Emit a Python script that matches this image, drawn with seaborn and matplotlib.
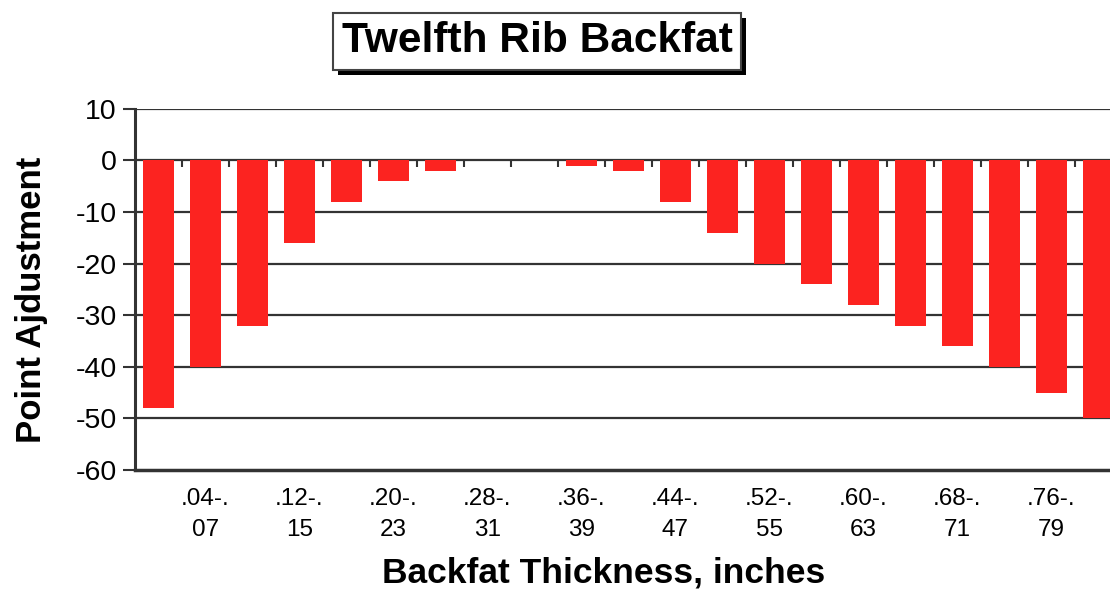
import numpy as np
import matplotlib
matplotlib.use("Agg")
import matplotlib.pyplot as plt
from matplotlib.patches import Rectangle
import seaborn as sns

# Backfat ranges (inches) and the point adjustment for each one
ranges = [".00-.03", ".04-.07", ".08-.11", ".12-.15", ".16-.19", ".20-.23", ".24-.27",
          ".28-.31", ".32-.35", ".36-.39", ".40-.43", ".44-.47", ".48-.51", ".52-.55",
          ".56-.59", ".60-.63", ".64-.67", ".68-.71", ".72-.75", ".76-.79", ".80-.83"]
points = [-48, -40, -32, -16, -8, -4, -2, 0, 0, -1, -2, -8, -14, -20,
          -24, -28, -32, -36, -40, -45, -50]
yticks = [10, 0, -10, -20, -30, -40, -50, -60]

sns.set_style("white")
plt.rcParams["font.family"] = ["Liberation Sans", "DejaVu Sans"]
plt.rcParams["text.color"] = "black"
plt.rcParams["axes.labelcolor"] = "black"

bar_red = "#FC2320"
line_col = "#333333"

fig = plt.figure(figsize=(11.1, 5.9), dpi=100)
ax = fig.add_axes([0.1216, 0.2034, 0.889, 0.612])

# grid lines first so the bars sit on top
for v in yticks[:-1]:
    ax.axhline(v, color=line_col, lw=1.6, zorder=0)

sns.barplot(x=ranges, y=points, color=bar_red, saturation=1, width=0.66,
            linewidth=0, ax=ax, zorder=2)

ax.set_xlim(-0.5, len(ranges) - 0.5)
ax.set_ylim(-60, 10)
ax.set_yticks(yticks)
ax.set_yticklabels([str(v) for v in yticks], fontsize=20.5)

# category tick marks hang down from the zero line
ax.vlines(np.arange(1, len(ranges)) - 0.5, -1.2, 0, color=line_col, lw=1.5, zorder=3)

# two-line labels, only every other one shown
xlabels = []
for i, r in enumerate(ranges):
    if i % 2 == 1:
        a, b = r.split("-.")
        xlabels.append(a + "-.\n" + b)
    else:
        xlabels.append("")
ax.set_xticks(range(len(ranges)))
ax.set_xticklabels(xlabels, fontsize=17.5, linespacing=1.55)
ax.tick_params(axis="x", length=0, pad=13, labelcolor="black")
ax.tick_params(axis="y", length=9, width=1.5, color=line_col, labelcolor="black",
               direction="out", pad=4, left=True)

for side in ["top", "right"]:
    ax.spines[side].set_visible(False)
ax.spines["left"].set_linewidth(2.2)
ax.spines["left"].set_color(line_col)
ax.spines["bottom"].set_linewidth(2.5)
ax.spines["bottom"].set_color(line_col)

ax.set_ylabel("Point Ajdustment", fontsize=25, fontweight="bold")
ax.set_xlabel("Backfat Thickness, inches", fontsize=25.5, fontweight="bold")
ax.xaxis.set_label_coords(0.475, -0.24)
ax.yaxis.set_label_coords(-0.088, 0.47)

# boxed title with a drop shadow behind it
title = fig.text(0.4838, 0.9297, "Twelfth Rib Backfat", fontsize=30.5, fontweight="bold",
                 ha="center", va="center", color="black", zorder=5,
                 bbox=dict(boxstyle="square,pad=0.2", fc="white", ec="#444444", lw=1.5))
fig.canvas.draw()
bb = title.get_bbox_patch().get_window_extent()
fig.patches.append(Rectangle((bb.x0 + 5, bb.y0 - 5), bb.width, bb.height,
                             transform=None, fc="black", ec="none", zorder=4))

fig.savefig("out.png", dpi=100)
